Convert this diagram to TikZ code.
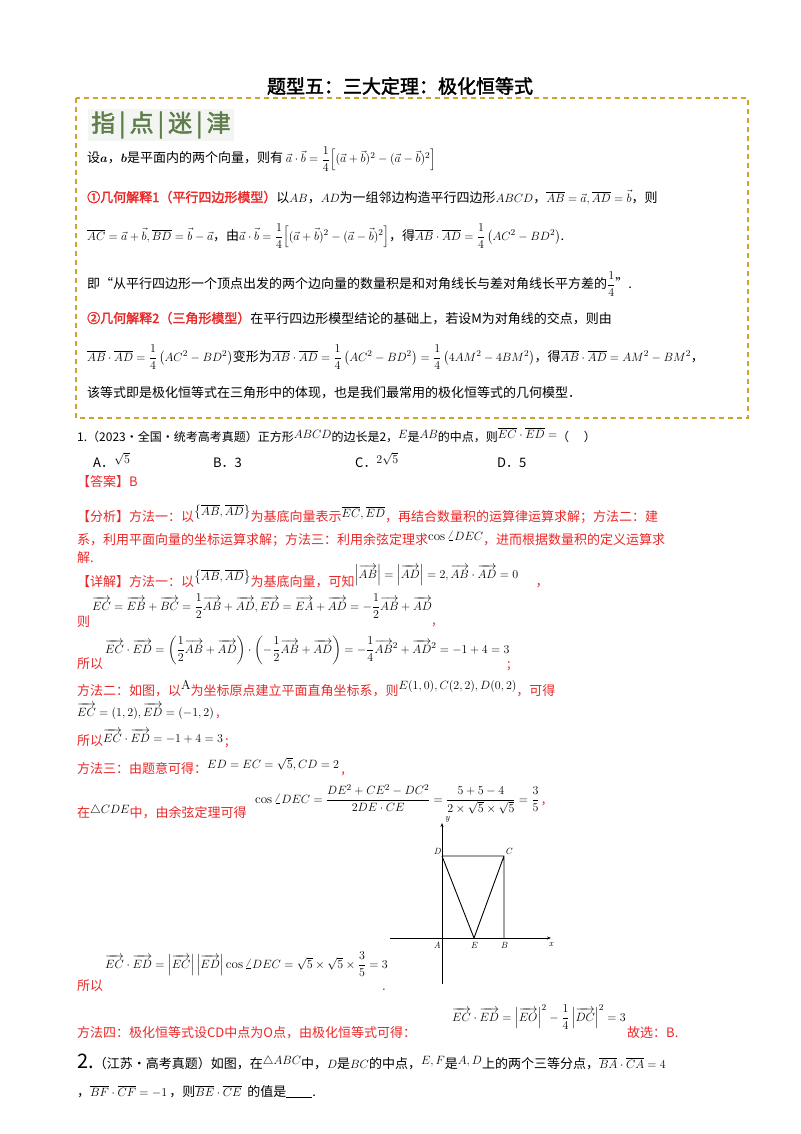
\documentclass[tikz,border=0pt]{standalone}
\usepackage{amsmath}
\usepackage{fontspec}
\newfontfamily\cjk{Noto Sans CJK SC}
\newfontfamily\cjkb[FakeBold=2]{Noto Sans CJK SC}
\definecolor{rd}{RGB}{235,40,40}
\definecolor{gold}{RGB}{205,165,40}
\definecolor{grn}{RGB}{95,125,75}
\usetikzlibrary{arrows.meta}
\newcommand{\vv}[1]{\overrightarrow{#1}}
\newcommand{\ov}[1]{\overline{#1}}
\newcommand{\up}[2][6pt]{\raisebox{#1}{\color{black}$#2$}}
\begin{document}
\begin{tikzpicture}[x=1pt,y=-1pt,
  tx/.style={anchor=base west,inner sep=0,font=\cjk\fontsize{13}{15}\selectfont},
  rt/.style={tx,text=rd},
  lb/.style={inner sep=1pt,font=\itshape\fontsize{9}{10}\selectfont}]
\useasboundingbox[fill=white] (0,0) rectangle (800,1134);
\node[font=\cjkb\fontsize{19}{22}\selectfont] (title) at (400,86) {题型五：三大定理：极化恒等式};
\draw[gold,dashed,line width=1.3pt,dash pattern=on 5pt off 4pt] (76,98) rectangle (748,418);
\node[anchor=west,fill=grn!8,inner sep=3pt,text=grn,font=\cjkb\fontsize{24}{26}\selectfont] (hd) at (88,125) {指\,|\,点\,|\,迷\,|\,津};
\node[tx] (l1) at (87,163) {设$\boldsymbol a$，$\boldsymbol b$是平面内的两个向量，则有 $\vec a\cdot\vec b=\dfrac14\Big[(\vec a+\vec b)^2-(\vec a-\vec b)^2\Big]$};
\node[tx] (l2) at (87,202) {{\cjkb\color{rd}①几何解释1（平行四边形模型）}以$AB$，$AD$为一组邻边构造平行四边形$ABCD$，$\ov{AB}=\vec a,\ov{AD}=\vec b$，则};
\node[tx] (l3) at (87,240) {$\ov{AC}=\vec a+\vec b,\ov{BD}=\vec b-\vec a$，由$\vec a\cdot\vec b=\dfrac14\Big[(\vec a+\vec b)^2-(\vec a-\vec b)^2\Big]$，得$\ov{AB}\cdot\ov{AD}=\dfrac14\left(AC^2-BD^2\right)$.};
\node[tx] (l4) at (87,288) {即“从平行四边形一个顶点出发的两个边向量的数量积是和对角线长与差对角线长平方差的$\dfrac14$”.};
\node[tx] (l5) at (87,323) {{\cjkb\color{rd}②几何解释2（三角形模型）}在平行四边形模型结论的基础上，若设M为对角线的交点，则由};
\node[tx] (l6) at (87,361) {$\ov{AB}\cdot\ov{AD}=\dfrac14\left(AC^2-BD^2\right)$变形为$\ov{AB}\cdot\ov{AD}=\dfrac14\left(AC^2-BD^2\right)=\dfrac14\left(4AM^2-4BM^2\right)$，得$\ov{AB}\cdot\ov{AD}=AM^2-BM^2$，};
\node[tx] (l7) at (87,397) {该等式即是极化恒等式在三角形中的体现，也是我们最常用的极化恒等式的几何模型．};
\node[tx,font=\cjk\fontsize{12}{14}\selectfont] (q1) at (77,441) {1.（2023·全国·统考高考真题）正方形\up[3pt]{ABCD}的边长是2，\up[3pt]{E}是\up[3pt]{AB}的中点，则\up[3pt]{\ov{EC}\cdot\ov{ED}=}（\quad\ ）};
\node[tx] (oa) at (93,467) {A．\up[4pt]{\sqrt5}};
\node[tx] (ob) at (213,467) {B．3};
\node[tx] (oc) at (355,467) {C．\up[4pt]{2\sqrt5}};
\node[tx] (od) at (497,467) {D．5};
\node[rt] (ans) at (77,486) {【答案】B};
\node[rt] (fx1) at (77,521) {【分析】方法一：以\up{\left\{\ov{AB},\ov{AD}\right\}}为基底向量表示\up[4pt]{\ov{EC},\ov{ED}}，再结合数量积的运算律运算求解；方法二：建};
\node[rt] (fx2) at (77,544) {系，利用平面向量的坐标运算求解；方法三：利用余弦定理求\up[4pt]{\cos\angle DEC}，进而根据数量积的定义运算求};
\node[rt] (fx3) at (77,562) {解.};
\node[rt] (xj) at (77,586) {【详解】方法一：以\up{\left\{\ov{AB},\ov{AD}\right\}}为基底向量，可知\up[8pt]{\left|\vv{AB}\right|=\left|\vv{AD}\right|=2,\vv{AB}\cdot\vv{AD}=0}\ \ \ \ \ \ ，};
\node[tx] (e1) at (92,610) {$\vv{EC}=\vv{EB}+\vv{BC}=\dfrac12\vv{AB}+\vv{AD},\vv{ED}=\vv{EA}+\vv{AD}=-\dfrac12\vv{AB}+\vv{AD}$};
\node[rt] (ze) at (77,626) {则};
\node[rt] (cm1) at (432,624) {,};
\node[tx] (e2) at (105,653) {$\vv{EC}\cdot\vv{ED}=\left(\dfrac12\vv{AB}+\vv{AD}\right)\cdot\left(-\dfrac12\vv{AB}+\vv{AD}\right)=-\dfrac14\vv{AB}^2+\vv{AD}^2=-1+4=3$};
\node[rt] (sy1) at (77,668) {所以};
\node[rt] (sc1) at (507,668) {;};
\node[rt] (m2) at (77,695) {方法二：如图，以\up{\mathrm A}为坐标原点建立平面直角坐标系，则\up{E(1,0),C(2,2),D(0,2)}，可得};
\node[tx] (e3) at (77,716) {$\vv{EC}=(1,2),\vv{ED}=(-1,2)$\,\textcolor{rd}{,}};
\node[rt] (sy2) at (77,745) {所以\up[3pt]{\vv{EC}\cdot\vv{ED}=-1+4=3}\,;};
\node[rt] (m3) at (77,773) {方法三：由题意可得：\up[5pt]{ED=EC=\sqrt5,CD=2}\,,};
\node[tx] (cs) at (255,803) {$\cos\angle DEC=\dfrac{DE^2+CE^2-DC^2}{2DE\cdot CE}=\dfrac{5+5-4}{2\times\sqrt5\times\sqrt5}=\dfrac35$\,\textcolor{rd}{,}};
\node[rt] (zc) at (77,817) {在\up[4pt]{\triangle CDE}中，由余弦定理可得};
% figure
\coordinate (A) at (442,938);
\coordinate (B) at (504,938);
\coordinate (C) at (504,856);
\coordinate (D) at (442,856);
\coordinate (E) at (474,938);
\coordinate (xl) at (390,938);
\coordinate (xr) at (551,938);
\coordinate (yb) at (442,984);
\coordinate (yt) at (442,823);
\draw[-{Stealth[length=4pt]},line width=0.8pt] (xl) -- (xr);
\draw[-{Stealth[length=4pt]},line width=0.8pt] (yb) -- (yt);
\draw[line width=0.9pt] (D) -- (C) -- (B) (D) -- (E) -- (C);
\node[lb,anchor=south east] (lD) at (D) {D};
\node[lb,anchor=south west] (lC) at (C) {C};
\node[lb,anchor=north east] (lA) at ([yshift=-3pt]A) {A};
\node[lb,anchor=north] (lE) at ([yshift=-3pt]E) {E};
\node[lb,anchor=north] (lB) at ([yshift=-3pt]B) {B};
\node[lb,anchor=north] (lx) at ([yshift=-3pt]xr) {x};
\node[lb,anchor=west] (ly) at ([xshift=2pt,yshift=4pt]yt) {y};
\node[tx] (e4) at (105,968) {$\vv{EC}\cdot\vv{ED}=\left|\vv{EC}\right|\left|\vv{ED}\right|\cos\angle DEC=\sqrt5\times\sqrt5\times\dfrac35=3$};
\node[rt] (sy3) at (77,990) {所以};
\node[rt] (dt) at (382,990) {.};
\node[rt] (m4) at (77,1037) {方法四：极化恒等式设CD中点为O点，由极化恒等式可得：};
\node[tx] (e5) at (452,1021) {$\vv{EC}\cdot\vv{ED}=\left|\vv{EO}\right|^2-\dfrac14\left|\vv{DC}\right|^2=3$};
\node[rt] (gx) at (627,1037) {故选：B.};
\node[tx] (q2) at (77,1068) {{\fontsize{20}{22}\selectfont 2.}（江苏·高考真题）如图，在\up[4pt]{\triangle ABC}中，$D$是$BC$的中点，\up[4pt]{E,F}是\up[4pt]{A,D}上的两个三等分点，$\ov{BA}\cdot\ov{CA}=4$};
\node[tx] (q2b) at (77,1096) {，$\ov{BF}\cdot\ov{CF}=-1$\,，则$\ov{BE}\cdot\ov{CE}$\ \ 的值是\underline{\hspace{2em}}.};
\end{tikzpicture}
\end{document}
